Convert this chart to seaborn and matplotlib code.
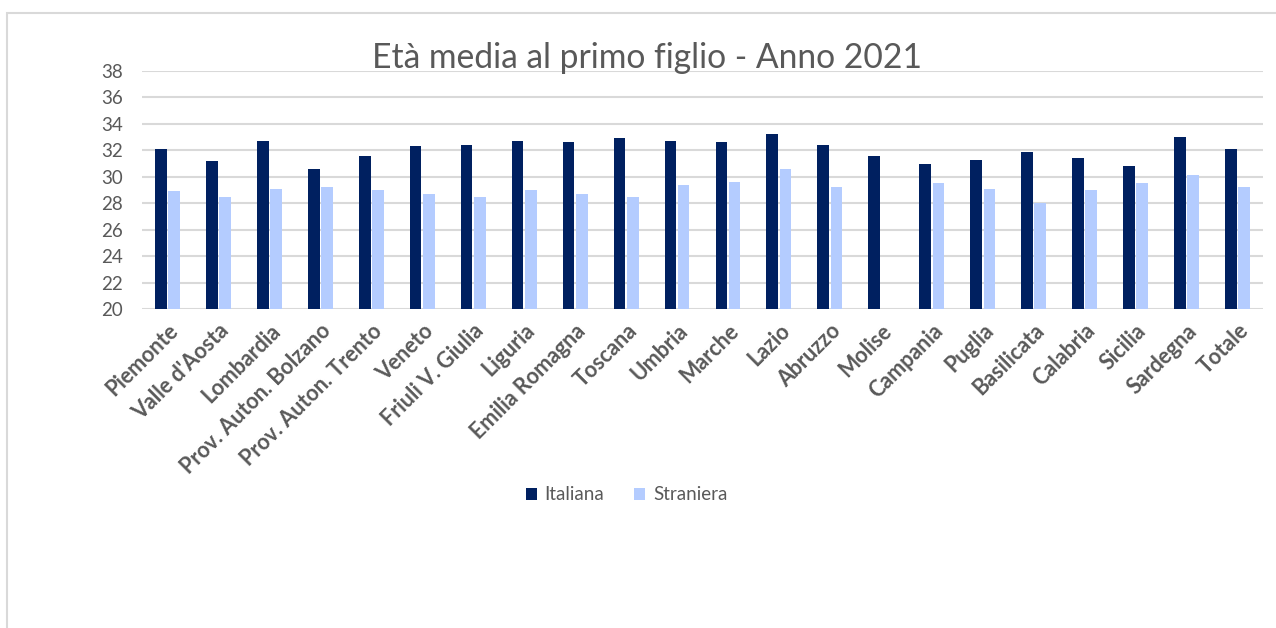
import numpy as np
import pandas as pd
import matplotlib
matplotlib.use("Agg")
import matplotlib.pyplot as plt
import seaborn as sns
from matplotlib.patches import Rectangle

regions = ["Piemonte", "Valle d'Aosta", "Lombardia", "Prov. Auton. Bolzano",
           "Prov. Auton. Trento", "Veneto", "Friuli V. Giulia", "Liguria",
           "Emilia Romagna", "Toscana", "Umbria", "Marche", "Lazio", "Abruzzo",
           "Molise", "Campania", "Puglia", "Basilicata", "Calabria", "Sicilia",
           "Sardegna", "Totale"]
italiana = [32.1, 31.2, 32.7, 30.6, 31.6, 32.3, 32.4, 32.7, 32.6, 32.9, 32.7,
            32.6, 33.2, 32.4, 31.6, 31.0, 31.3, 31.9, 31.4, 30.8, 33.0, 32.1]
straniera = [28.9, 28.5, 29.1, 29.2, 29.0, 28.7, 28.5, 29.0, 28.7, 28.5, 29.4,
             29.6, 30.6, 29.2, np.nan, 29.5, 29.1, 28.0, 29.0, 29.5, 30.1, 29.2]
series_names = ["Italiana", "Straniera"]
yticks = [20, 22, 24, 26, 28, 30, 32, 34, 36, 38]
title = "Età media al primo figlio - Anno 2021"

df = pd.DataFrame({
    "Regione": regions * 2,
    "Cittadinanza": [series_names[0]] * len(regions) + [series_names[1]] * len(regions),
    "Eta": italiana + straniera,
})

sns.set_style("white")
plt.rcParams["font.family"] = ["Lato", "DejaVu Sans"]

text_gray = "#595959"
grid_gray = "#D9D9D9"
palette = {"Italiana": "#002060", "Straniera": "#B4CCFF"}

fig = plt.figure(figsize=(12.76, 6.28), dpi=100)
ax = fig.add_axes([142 / 1276, 1 - 309 / 628, (1263 - 142) / 1276, (309 - 71) / 628])

sns.barplot(data=df, x="Regione", y="Eta", hue="Cittadinanza", palette=palette,
            width=0.52, gap=0.12, ax=ax, legend=True, linewidth=0,
            saturation=1)

ax.set_ylim(20, 38)
ax.set_yticks(yticks)
ax.set_xlim(-0.5, len(regions) - 0.5)
ax.yaxis.grid(True, color=grid_gray, linewidth=1.5)
ax.set_axisbelow(True)
for s in ax.spines.values():
    s.set_visible(False)
ax.set_xlabel("")
ax.set_ylabel("")
ax.tick_params(axis="y", length=0, pad=13.5, labelsize=13.5, labelcolor=text_gray)
ax.tick_params(axis="x", length=0, pad=8, labelcolor=text_gray)
plt.setp(ax.get_xticklabels(), rotation=45, ha="right", rotation_mode="anchor",
         fontsize=15.5, fontweight="bold")

fig.text(647 / 1276, 1 - 68 / 628, title, fontsize=24.2, color=text_gray,
         ha="center", va="baseline")

handles, labels = ax.get_legend_handles_labels()
leg = ax.legend(handles, labels, loc="center", bbox_to_anchor=(0.491, 0.212),
                bbox_transform=fig.transFigure, ncol=2, frameon=False,
                fontsize=13.5, labelcolor=text_gray, handlelength=0.6,
                handleheight=0.6, columnspacing=1.6, handletextpad=0.4)

fig.patches.append(Rectangle((7 / 1276, -0.1), 1.2, 1 - 13 / 628 + 0.1,
                             transform=fig.transFigure, fill=False,
                             edgecolor=grid_gray, linewidth=1.5))

fig.savefig("out.png", dpi=100)
